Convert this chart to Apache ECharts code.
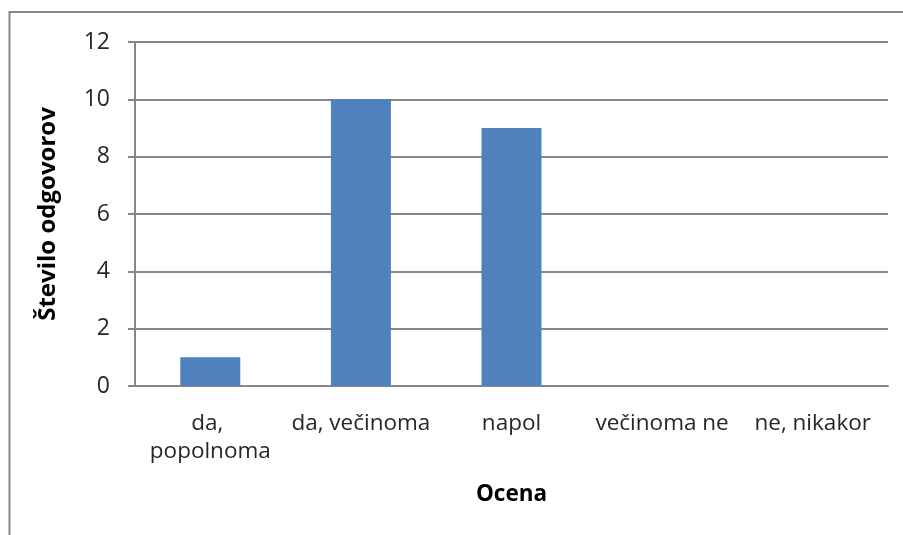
<!DOCTYPE html>
<html>
<head>
<meta charset="utf-8">
<script src="https://cdn.jsdelivr.net/npm/echarts@6/dist/echarts.min.js"></script>
<style>html,body{margin:0;padding:0;background:#fff}#c{width:903px;height:535px}</style>
</head>
<body>
<div id="c"></div>
<script>
const categories = ['da, popolnoma', 'da, večinoma', 'napol', 'večinoma ne', 'ne, nikakor'];
const values = [1, 10, 9, 0, 0];
const yTicks = [0, 2, 4, 6, 8, 10, 12];
const yTitle = 'Število odgovorov';
const xTitle = 'Ocena';

const font = 'Open Sans';
const chart = echarts.init(document.getElementById('c'), null, {renderer: 'canvas'});
chart.setOption({
  animation: false,
  backgroundColor: '#fff',
  graphic: [{
    type: 'rect', shape: {x: 9.5, y: 12, width: 1000, height: 1000},
    style: {fill: 'none', stroke: '#878787', lineWidth: 2}, silent: true
  }],
  grid: {left: 135, right: 15, top: 42, bottom: 149, containLabel: false},
  xAxis: {
    type: 'category', data: categories,
    name: xTitle, nameLocation: 'middle', nameGap: 97,
    nameTextStyle: {fontFamily: font, fontSize: 22.5, fontWeight: 'bold', color: '#000'},
    axisLine: {lineStyle: {color: '#878787', width: 2}},
    axisTick: {show: false},
    axisLabel: {fontFamily: font, fontSize: 22.5, color: '#262626', margin: 24, lineHeight: 28,
      width: 156, overflow: 'break', interval: 0}
  },
  yAxis: {
    type: 'value', min: yTicks[0], max: yTicks[yTicks.length - 1], interval: 2,
    name: yTitle, nameLocation: 'middle', nameGap: 75, nameRotate: 90,
    nameTextStyle: {fontFamily: font, fontSize: 24, fontWeight: 'bold', color: '#000'},
    axisLine: {show: true, lineStyle: {color: '#878787', width: 2}},
    axisTick: {show: true, length: 7, lineStyle: {color: '#878787', width: 2}},
    axisLabel: {fontFamily: font, fontSize: 23, color: '#262626', margin: 25},
    splitLine: {lineStyle: {color: '#878787', width: 2}}
  },
  series: [{
    type: 'bar', data: values, barWidth: 60,
    itemStyle: {color: '#4f81bd'}
  }]
});
</script>
</body>
</html>
